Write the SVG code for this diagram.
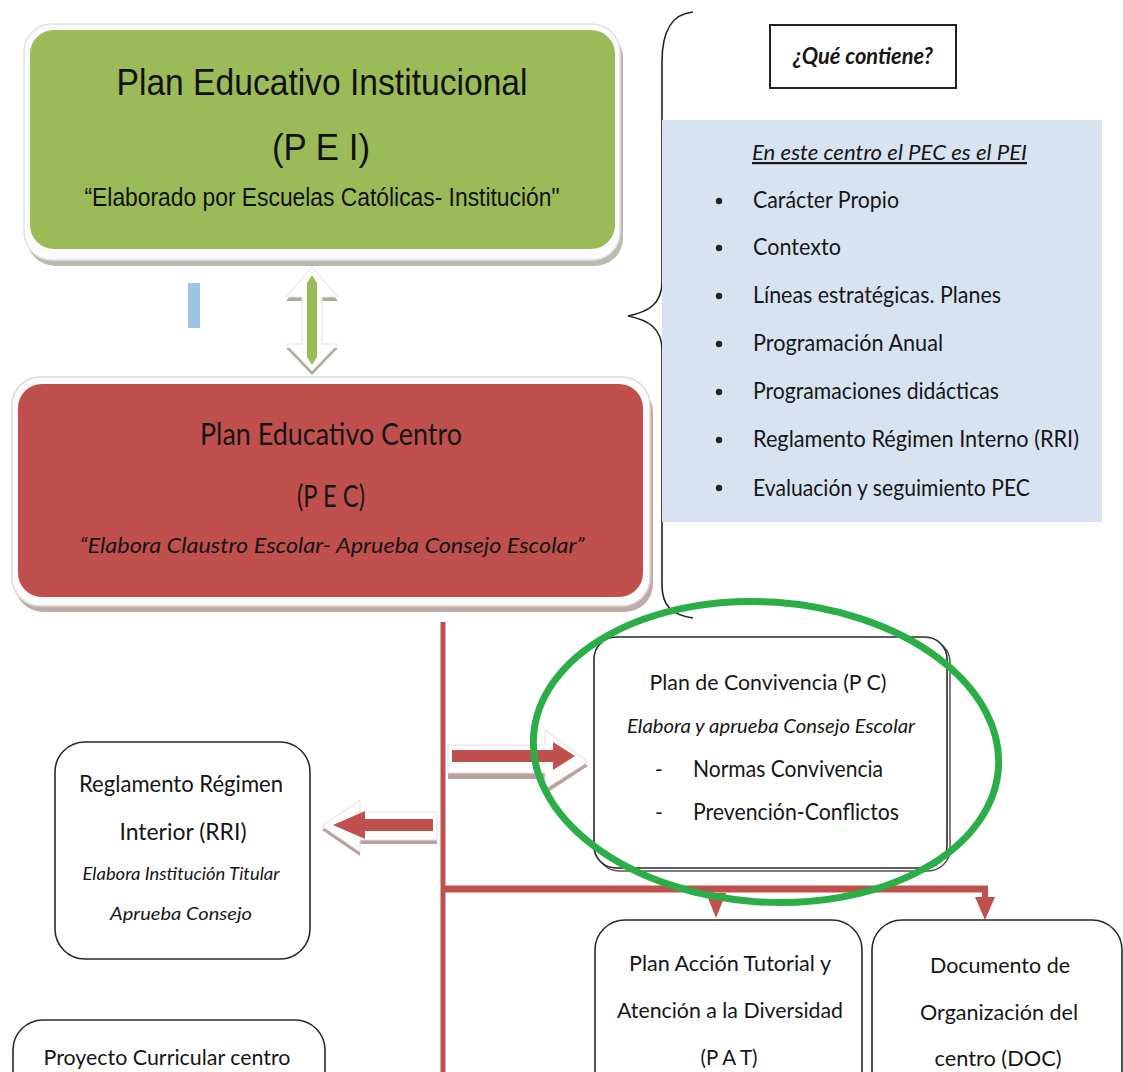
<svg xmlns="http://www.w3.org/2000/svg" width="1123" height="1072" viewBox="0 0 1123 1072">
<style>
.narrow{font-family:"Liberation Sans Narrow","Liberation Sans",Arial,sans-serif;fill:#111;}
.cal{font-family:Lato,"Open Sans","Liberation Sans",sans-serif;fill:#161616;}
.it{font-style:italic;}
.box{fill:#fff;stroke:#2a2a2a;stroke-width:1.6;}
.red{fill:#C0504D;}
.conn{stroke:#C0504D;fill:none;}
</style>
<rect width="1123" height="1072" fill="#fff"/>

<g id="pei">
  <rect x="27" y="30" width="596" height="236" rx="28" fill="#9aa089" opacity="0.7"/>
  <rect x="24" y="24" width="596" height="236" rx="28" fill="#fbfbfb" stroke="#e2e2e2" stroke-width="1.5"/>
  <rect x="30" y="30" width="585" height="219" rx="24" fill="#9BBB59"/>
  <text class="narrow" x="322" y="95" font-size="37" text-anchor="middle" textLength="411" lengthAdjust="spacingAndGlyphs">Plan Educativo Institucional</text>
  <text class="narrow" x="321" y="160" font-size="37" text-anchor="middle" textLength="98" lengthAdjust="spacingAndGlyphs">(P E I)</text>
  <text class="narrow" x="322" y="206" font-size="26" text-anchor="middle" textLength="475" lengthAdjust="spacingAndGlyphs">“Elaborado por Escuelas Católicas- Institución"</text>
</g>

<g id="marker-blue">
  <rect x="188" y="283" width="12" height="45" fill="#9DC3E6"/>
</g>

<g id="dbl-arrow">
  <polygon points="312,271 338,301 322,301 322,348 338,348 312,375 286,348 302,348 302,301 286,301" fill="#a9ae96"/>
  <polygon points="312,267 338,297 322,297 322,344 338,344 312,371 286,344 302,344 302,297 286,297" fill="#fdfdfd" stroke="#e4e4e4" stroke-width="1"/>
  <polygon points="312,275 317,283 317,357 312,365 307,357 307,283" fill="#9BBB59"/>
</g>

<g id="pec">
  <rect x="15" y="384" width="638" height="228" rx="28" fill="#a8908e" opacity="0.75"/>
  <rect x="12" y="377" width="638" height="229" rx="28" fill="#fbfbfb" stroke="#e2d6d6" stroke-width="1.5"/>
  <rect x="18" y="384" width="625" height="213" rx="24" fill="#C0504D"/>
  <text class="cal" x="331" y="445" font-size="31" text-anchor="middle" textLength="262" lengthAdjust="spacingAndGlyphs">Plan Educativo Centro</text>
  <text class="cal" x="331" y="507" font-size="31" text-anchor="middle" textLength="68" lengthAdjust="spacingAndGlyphs">(P E C)</text>
  <text class="cal it" x="332" y="553" font-size="22" text-anchor="middle" textLength="505" lengthAdjust="spacingAndGlyphs">“Elabora Claustro Escolar- Aprueba Consejo Escolar”</text>
</g>

<g id="brace">
  <path d="M693,12 C672,14 662,30 662,62 L662,282 C662,304 648,312 628,316 C648,320 662,328 662,350 L662,585 C662,606 672,615 693,618" fill="none" stroke="#222" stroke-width="1.6"/>
</g>

<g id="que-contiene">
  <rect x="770" y="25" width="186" height="63" fill="#fff" stroke="#222" stroke-width="2"/>
  <text class="cal it" x="863" y="64" font-size="22" font-weight="bold" text-anchor="middle" textLength="140" lengthAdjust="spacingAndGlyphs" fill="#111">¿Qué contiene?</text>
</g>

<g id="contenido">
  <rect x="662" y="120" width="440" height="402" fill="#D8E3F2"/>
  <text class="cal it" x="752" y="160" font-size="22" text-decoration="underline" textLength="275" lengthAdjust="spacingAndGlyphs">En este centro el PEC es el PEI</text>
  <circle cx="719" cy="201" r="3.2" fill="#222"/>
  <text class="cal" x="753" y="208" font-size="24" textLength="146" lengthAdjust="spacingAndGlyphs">Carácter Propio</text>
  <circle cx="719" cy="248" r="3.2" fill="#222"/>
  <text class="cal" x="753" y="255" font-size="24" textLength="88" lengthAdjust="spacingAndGlyphs">Contexto</text>
  <circle cx="719" cy="296" r="3.2" fill="#222"/>
  <text class="cal" x="753" y="303" font-size="24" textLength="248" lengthAdjust="spacingAndGlyphs">Líneas estratégicas. Planes</text>
  <circle cx="719" cy="344" r="3.2" fill="#222"/>
  <text class="cal" x="753" y="351" font-size="24" textLength="190" lengthAdjust="spacingAndGlyphs">Programación Anual</text>
  <circle cx="719" cy="392" r="3.2" fill="#222"/>
  <text class="cal" x="753" y="399" font-size="24" textLength="246" lengthAdjust="spacingAndGlyphs">Programaciones didácticas</text>
  <circle cx="719" cy="440" r="3.2" fill="#222"/>
  <text class="cal" x="753" y="447" font-size="24" textLength="326" lengthAdjust="spacingAndGlyphs">Reglamento Régimen Interno (RRI)</text>
  <circle cx="719" cy="488" r="3.2" fill="#222"/>
  <text class="cal" x="753" y="496" font-size="24" textLength="277" lengthAdjust="spacingAndGlyphs">Evaluación y seguimiento PEC</text>
</g>

<g id="connectors">
  <line class="conn" x1="443" y1="622" x2="443" y2="1072" stroke-width="5"/>
  <line class="conn" x1="443" y1="889" x2="988" y2="889" stroke-width="7"/>
  <line class="conn" x1="985" y1="889" x2="985" y2="900" stroke-width="6"/>
  <polygon class="red" points="706,893 726,893 716,918"/>
  <polygon class="red" points="975,897 995,897 985,920"/>
  <g id="arrow-right">
    <polygon points="448,749 545,749 545,734 588,766 545,794 545,779 448,779" fill="#a88a8a" opacity="0.8"/>
    <polygon points="448,745 545,745 545,730 588,762 545,789 545,773 448,773" fill="#fdfdfd" stroke="#e6dede" stroke-width="1"/>
    <polygon class="red" points="452,750 553,750 553,742 575,756 553,770 553,762 452,762"/>
  </g>
  <g id="arrow-left">
    <polygon points="437,816 360,816 360,804 322,830 360,856 360,844 437,844" fill="#a88a8a" opacity="0.8"/>
    <polygon points="437,812 360,812 360,800 322,826 360,852 360,840 437,840" fill="#fdfdfd" stroke="#e6dede" stroke-width="1"/>
    <polygon class="red" points="433,819 365,819 365,811 333,825 365,839 365,831 433,831"/>
  </g>
</g>

<g id="pc">
  <rect x="597" y="640" width="353" height="231" rx="22" fill="none" stroke="#555" stroke-width="1.5"/>
  <rect class="box" x="594" y="637" width="353" height="231" rx="22"/>
  <text class="cal" x="768" y="690" font-size="21" text-anchor="middle" textLength="237" lengthAdjust="spacingAndGlyphs">Plan de Convivencia (P C)</text>
  <text class="cal it" x="771" y="733" font-size="19" text-anchor="middle" textLength="288" lengthAdjust="spacingAndGlyphs">Elabora y aprueba Consejo Escolar</text>
  <text class="cal" x="655" y="777" font-size="21">-</text>
  <text class="cal" x="693" y="777" font-size="23" textLength="190" lengthAdjust="spacingAndGlyphs">Normas Convivencia</text>
  <text class="cal" x="655" y="820" font-size="21">-</text>
  <text class="cal" x="693" y="820" font-size="23" textLength="206" lengthAdjust="spacingAndGlyphs">Prevención-Conflictos</text>
</g>

<g id="highlight">
  <ellipse cx="766" cy="752" rx="233" ry="150" transform="rotate(4 766 752)" fill="none" stroke="#2BAE47" stroke-width="7"/>
</g>

<g id="rri">
  <rect class="box" x="55" y="742" width="255" height="217" rx="30"/>
  <text class="cal" x="181" y="792" font-size="23" text-anchor="middle" textLength="204" lengthAdjust="spacingAndGlyphs">Reglamento Régimen</text>
  <text class="cal" x="183" y="840" font-size="23" text-anchor="middle" textLength="127" lengthAdjust="spacingAndGlyphs">Interior  (RRI)</text>
  <text class="cal it" x="181" y="880" font-size="17" text-anchor="middle" textLength="197" lengthAdjust="spacingAndGlyphs">Elabora Institución Titular</text>
  <text class="cal it" x="181" y="920" font-size="18" text-anchor="middle" textLength="142" lengthAdjust="spacingAndGlyphs">Aprueba Consejo</text>
</g>

<g id="pcc">
  <rect class="box" x="13" y="1020" width="312" height="90" rx="30"/>
  <text class="cal" x="167" y="1065" font-size="22" text-anchor="middle" textLength="247" lengthAdjust="spacingAndGlyphs">Proyecto Curricular centro</text>
</g>

<g id="pat">
  <rect class="box" x="595" y="920" width="267" height="190" rx="30"/>
  <text class="cal" x="730" y="971" font-size="22" text-anchor="middle" textLength="202" lengthAdjust="spacingAndGlyphs">Plan Acción Tutorial y</text>
  <text class="cal" x="730" y="1018" font-size="22" text-anchor="middle" textLength="226" lengthAdjust="spacingAndGlyphs">Atención a la Diversidad</text>
  <text class="cal" x="729" y="1065" font-size="22" text-anchor="middle" textLength="57" lengthAdjust="spacingAndGlyphs">(P A T)</text>
</g>

<g id="doc">
  <rect class="box" x="872" y="920" width="250" height="190" rx="30"/>
  <text class="cal" x="1000" y="973" font-size="22" text-anchor="middle" textLength="140" lengthAdjust="spacingAndGlyphs">Documento de</text>
  <text class="cal" x="999" y="1020" font-size="22" text-anchor="middle" textLength="158" lengthAdjust="spacingAndGlyphs">Organización del</text>
  <text class="cal" x="998" y="1066" font-size="22" text-anchor="middle" textLength="127" lengthAdjust="spacingAndGlyphs">centro (DOC)</text>
</g>
</svg>
